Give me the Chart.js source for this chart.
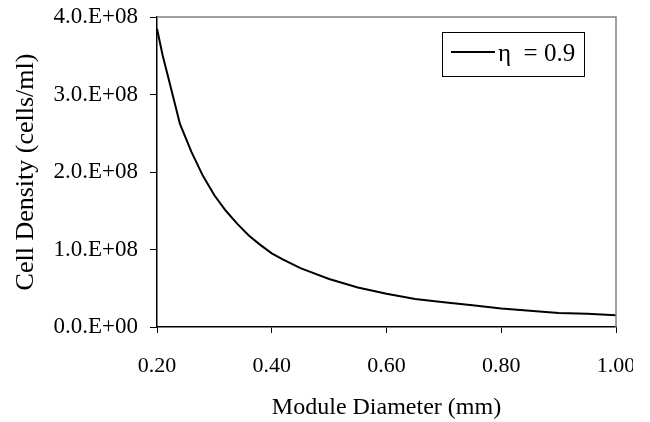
<!DOCTYPE html>
<html>
<head>
<meta charset="utf-8">
<script src="https://cdn.jsdelivr.net/npm/chart.js@4.4.1/dist/chart.umd.min.js"></script>
<style>
  body { margin: 0; background: #fff; }
  #wrap { width: 633px; height: 422px; overflow: hidden; }
</style>
</head>
<body>
<div id="wrap"><canvas id="myChart" width="650" height="422"></canvas></div>
<script>
// module diameter (mm) and cell density (cells/ml)
const diameter = [0.20, 0.21, 0.22, 0.24, 0.26, 0.28, 0.30, 0.32, 0.34, 0.36, 0.38, 0.40,
                  0.42, 0.45, 0.50, 0.55, 0.60, 0.65, 0.70, 0.75, 0.80, 0.85, 0.90, 0.95, 1.00];
const density = [3.85e8, 3.50e8, 3.21e8, 2.62e8, 2.26e8, 1.95e8, 1.70e8, 1.50e8, 1.33e8, 1.18e8, 1.06e8, 0.95e8,
                 0.87e8, 0.76e8, 0.62e8, 0.51e8, 0.43e8, 0.36e8, 0.32e8, 0.28e8, 0.24e8, 0.21e8, 0.18e8, 0.17e8, 0.15e8];
const seriesLabel = 'η  = 0.9';
const xTicks = [0.2, 0.4, 0.6, 0.8, 1.0];
const yTicks = [0, 1e8, 2e8, 3e8, 4e8];

const serif = "'Liberation Serif', 'Times New Roman', serif";

function sciLabel(v) {
    if (v === 0) return '0.0.E+00';
    let e = Math.floor(Math.log10(v) + 1e-9);
    let m = v / Math.pow(10, e);
    return m.toFixed(1) + '.E+' + String(e).padStart(2, '0');
}

// gray frame on top/right plus the boxed legend inside the plot
const framePlugin = {
    id: 'frameAndLegend',
    afterDraw(chart) {
        const ctx = chart.ctx;
        const a = chart.chartArea;
        ctx.save();
        ctx.strokeStyle = '#808080';
        ctx.lineWidth = 1.5;
        ctx.beginPath();
        ctx.moveTo(a.left, a.top);
        ctx.lineTo(a.right, a.top);
        ctx.lineTo(a.right, a.bottom);
        ctx.stroke();

        const ds = chart.data.datasets[0];
        const bx = a.right - 174, by = a.top + 15, bw = 142, bh = 44;
        ctx.fillStyle = '#fff';
        ctx.fillRect(bx, by, bw, bh);
        ctx.strokeStyle = '#000';
        ctx.lineWidth = 1;
        ctx.strokeRect(bx + 0.5, by + 0.5, bw, bh);
        ctx.strokeStyle = ds.borderColor;
        ctx.lineWidth = ds.borderWidth;
        ctx.beginPath();
        ctx.moveTo(bx + 9, by + 20);
        ctx.lineTo(bx + 53, by + 20);
        ctx.stroke();
        ctx.fillStyle = '#000';
        ctx.font = '25px ' + serif;
        ctx.textBaseline = 'middle';
        ctx.fillText(ds.label, bx + 56, by + bh / 2);
        ctx.restore();
    }
};

const ctx = document.getElementById('myChart');
const myChart = new Chart(ctx, {
    type: 'line',
    data: {
        datasets: [{
            label: seriesLabel,
            data: diameter.map((d, i) => ({x: d, y: density[i]})),
            borderColor: '#000',
            backgroundColor: '#000',
            borderWidth: 2,
            pointRadius: 0,
            tension: 0,
            fill: false
        }]
    },
    options: {
        responsive: false,
        animation: false,
        devicePixelRatio: 1,
        layout: { padding: { left: 0, right: 34, top: 17, bottom: 0 } },
        plugins: {
            legend: { display: false },
            tooltip: { enabled: false }
        },
        scales: {
            x: {
                type: 'linear',
                min: 0.2,
                max: 1.0,
                afterBuildTicks: s => { s.ticks = xTicks.map(v => ({value: v})); },
                afterFit: s => { s.height = 95; s.paddingLeft = 0; s.paddingRight = 0; },
                ticks: {
                    color: '#000',
                    font: { family: serif, size: 22 },
                    padding: 20,
                    maxRotation: 0,
                    callback: v => v.toFixed(2)
                },
                grid: { display: true, drawOnChartArea: false, drawTicks: true, tickLength: 6, color: '#000' },
                border: { display: true, color: '#000', width: 1.5 },
                title: {
                    display: true,
                    text: 'Module Diameter (mm)',
                    color: '#000',
                    font: { family: serif, size: 24 },
                    padding: { top: 0, bottom: 0 }
                }
            },
            y: {
                type: 'linear',
                min: 0,
                max: 4e8,
                afterBuildTicks: s => { s.ticks = yTicks.map(v => ({value: v})); },
                afterFit: s => { s.width = 157; s.paddingTop = 0; s.paddingBottom = 0; },
                ticks: {
                    color: '#000',
                    font: { family: serif, size: 23 },
                    padding: 12,
                    callback: v => sciLabel(v)
                },
                grid: { display: true, drawOnChartArea: false, drawTicks: true, tickLength: 7, color: '#000' },
                border: { display: true, color: '#000', width: 1.5 },
                title: {
                    display: true,
                    text: 'Cell Density (cells/ml)',
                    color: '#000',
                    font: { family: serif, size: 26 },
                    padding: { top: 11, bottom: 0 }
                }
            }
        }
    },
    plugins: [framePlugin]
});
</script>
</body>
</html>
